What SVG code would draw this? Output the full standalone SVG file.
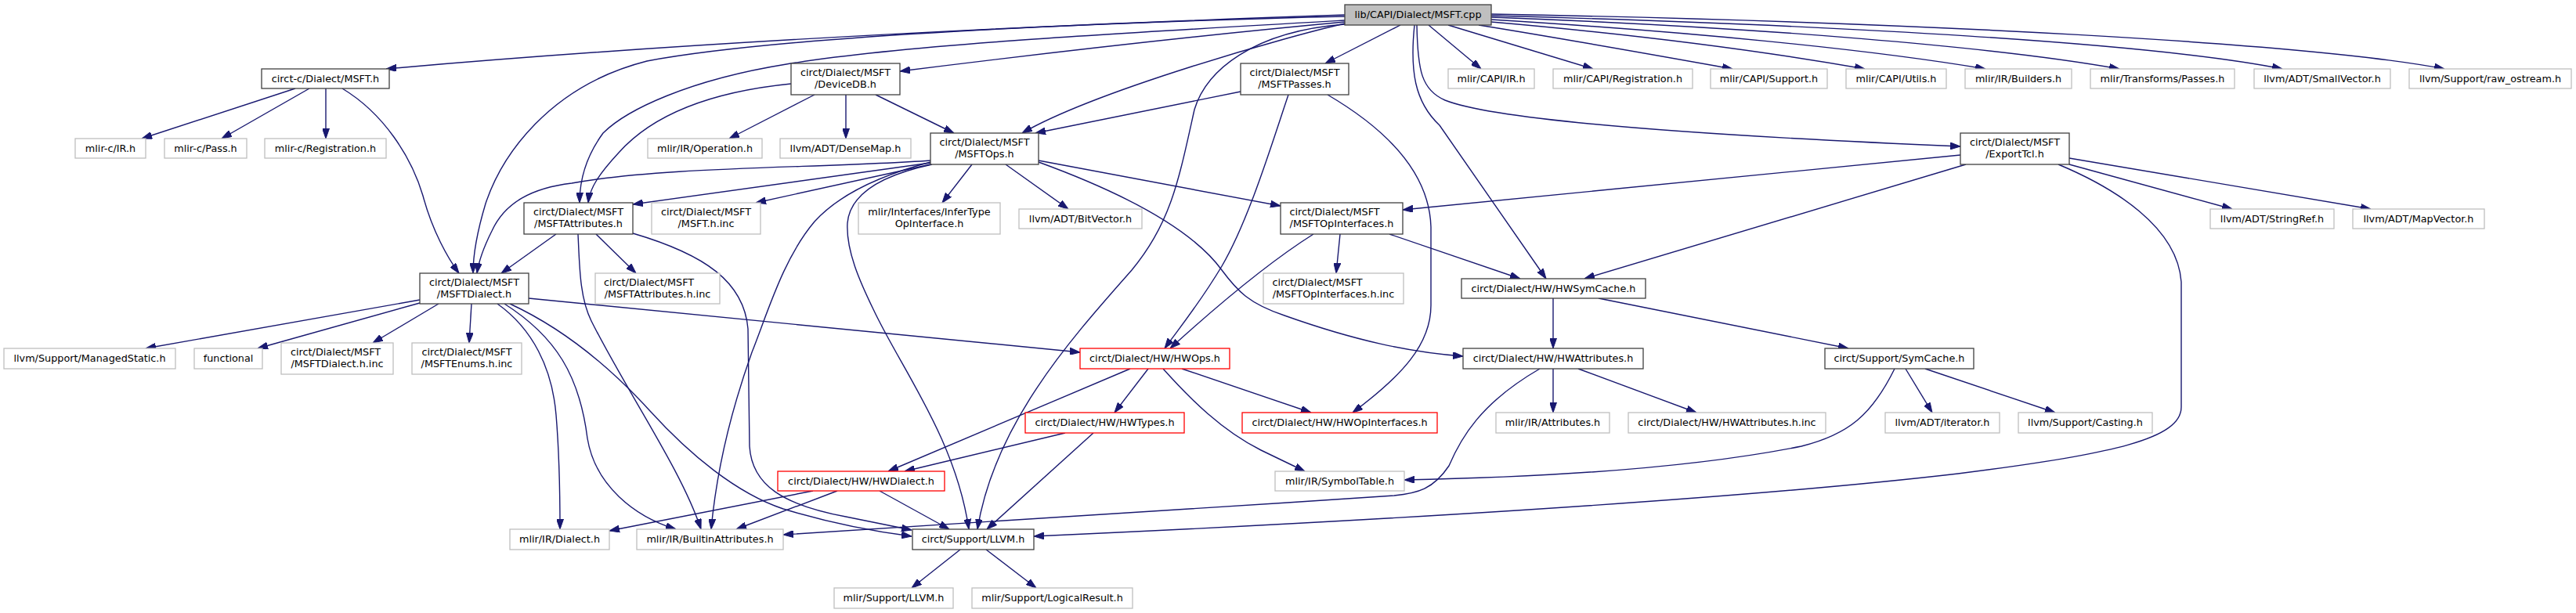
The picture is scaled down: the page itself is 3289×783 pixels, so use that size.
<svg xmlns="http://www.w3.org/2000/svg" width="3289" height="783" viewBox="0 0 3289 783">
<defs>
<marker id="ah" viewBox="0 0 13 9" refX="13" refY="4.5" markerWidth="13" markerHeight="9" markerUnits="userSpaceOnUse" orient="auto">
<path d="M0,0 L13,4.5 L0,9 z" fill="#191970" stroke="#191970" stroke-width="1"/>
</marker>
<style>
.node rect{stroke-width:1.3;fill:#ffffff}
.doc rect{stroke:#404040}
.ext rect{stroke:#bfbfbf}
.trunc rect{stroke:#ff0000}
.root rect{fill:#bfbfbf;stroke:#404040}
text{font-family:"DejaVu Sans","Liberation Sans",sans-serif;font-size:12.8px;fill:#000000}
.c{text-anchor:middle}
.s{text-anchor:start}
#edges path{fill:none;stroke:#191970;stroke-width:1.4;marker-end:url(#ah)}
</style>
</defs>
<rect x="0" y="0" width="3289" height="783" fill="#ffffff"/>
<g id="edges">
<path d="M1717,21 C1400,28 900,52 493,88"/>
<path d="M1717,28 C1500,48 1300,72 1149,91"/>
<path d="M1788,32 L1692,81"/>
<path d="M1717,30 C1650,45 1400,115 1305,170"/>
<path d="M1717,26 C1400,44 1150,58 1004,82 C880,102 800,140 770,170 C748,200 740,230 740,259"/>
<path d="M1717,19 C1400,30 1000,45 826,78 C700,110 640,200 620,260 C608,300 604,330 604,349"/>
<path d="M1717,31 C1600,40 1540,90 1525,140 C1505,230 1495,285 1445,345 C1370,430 1270,540 1248,676"/>
<path d="M1806,32 C1800,90 1806,130 1838,160 L1974,356"/>
<path d="M1809,32 C1810,90 1815,115 1845,128 C1900,150 2100,170 2503,187"/>
<path d="M1824,32 L1891,88"/>
<path d="M1849,32 L2034,88"/>
<path d="M1888,32 C2000,50 2100,68 2212,88"/>
<path d="M1904,28 C2100,45 2250,65 2381,88"/>
<path d="M1904,25 C2150,40 2380,62 2535,88"/>
<path d="M1904,22 C2250,35 2550,60 2706,88"/>
<path d="M1904,20 C2350,32 2750,55 2914,88"/>
<path d="M1904,18 C2450,28 2950,55 3121,88"/>
<path d="M377,113 L181,177"/>
<path d="M395,113 L283,177"/>
<path d="M416,113 L416,177"/>
<path d="M437,113 C490,145 525,200 540,250 C552,295 572,330 586,349"/>
<path d="M1040,121 L931,177"/>
<path d="M1080,121 L1080,177"/>
<path d="M1118,121 L1218,170"/>
<path d="M1010,107 C900,118 830,150 790,195 C765,222 753,240 751,259"/>
<path d="M1584,117 L1322,170"/>
<path d="M1645,121 C1625,180 1595,280 1560,340 C1530,390 1505,420 1487,445"/>
<path d="M1695,121 C1770,165 1825,220 1827,290 L1827,390 C1827,440 1790,480 1727,527"/>
<path d="M1188,208 L808,261"/>
<path d="M1188,210 L965,259"/>
<path d="M1188,205 C1050,215 850,212 730,234 C680,240 645,258 628,295 C618,315 611,335 609,349"/>
<path d="M1241,210 L1203,259"/>
<path d="M1284,210 L1364,267"/>
<path d="M1326,205 L1635,263"/>
<path d="M1326,207 C1430,245 1520,290 1560,345 C1580,372 1595,388 1640,403 C1730,435 1800,450 1868,455"/>
<path d="M1190,210 C1120,225 1085,250 1082,285 C1080,320 1098,360 1115,395 C1150,470 1220,560 1237,676"/>
<path d="M1188,207 C1120,225 1070,250 1040,283 C1000,330 980,400 960,450 C935,520 915,600 908,676"/>
<path d="M710,299 L640,349"/>
<path d="M761,299 L812,349"/>
<path d="M738,299 C740,340 740,380 755,410 C800,500 870,600 895,676"/>
<path d="M808,298 C900,325 950,360 955,420 L957,570 C960,620 1000,645 1080,660 L1164,677"/>
<path d="M536,383 L186,445"/>
<path d="M536,387 L329,445"/>
<path d="M560,388 L476,438"/>
<path d="M602,388 L599,438"/>
<path d="M635,388 C680,420 705,470 710,530 C715,590 715,640 715,676"/>
<path d="M644,388 C710,430 740,480 750,560 C760,620 810,660 863,676"/>
<path d="M651,388 C720,420 780,470 830,525 C880,580 940,630 1000,650 C1060,668 1110,678 1164,685"/>
<path d="M675,381 L1379,450"/>
<path d="M1443,471 L1134,602"/>
<path d="M1466,471 L1423,527"/>
<path d="M1485,471 C1520,510 1560,550 1610,575 L1666,602"/>
<path d="M1509,471 L1674,527"/>
<path d="M1360,553 L1155,602"/>
<path d="M1396,553 L1260,676"/>
<path d="M1038,627 L778,678"/>
<path d="M1069,627 L940,676"/>
<path d="M1123,627 L1212,676"/>
<path d="M1226,702 L1164,751"/>
<path d="M1259,702 L1323,751"/>
<path d="M1711,299 L1706,349"/>
<path d="M1774,299 L1941,356"/>
<path d="M1677,299 C1620,335 1560,385 1494,445"/>
<path d="M1983,381 L1983,445"/>
<path d="M2041,381 L2360,445"/>
<path d="M2503,198 L1791,268"/>
<path d="M2510,210 L2023,356"/>
<path d="M2642,210 L2850,267"/>
<path d="M2642,202 L3027,267"/>
<path d="M2628,210 C2700,240 2780,290 2785,360 L2785,520 C2785,560 2700,580 2500,605 C2200,640 1700,668 1320,685"/>
<path d="M1966,471 C1890,515 1865,560 1850,595 C1830,625 1810,630 1780,633 C1500,652 1200,668 1000,683"/>
<path d="M1983,471 L1983,527"/>
<path d="M2015,471 L2166,527"/>
<path d="M2419,471 C2390,530 2360,555 2300,570 C2150,600 1950,610 1793,613"/>
<path d="M2433,471 L2467,527"/>
<path d="M2458,471 L2624,527"/>
</g>
<g id="n0" class="node root"><rect x="1717" y="6" width="187" height="26"/><text class="c" x="1810.5" y="23">lib/CAPI/Dialect/MSFT.cpp</text></g>
<g id="n1" class="node doc"><rect x="334" y="88" width="163" height="25"/><text class="c" x="415.5" y="104.5">circt-c/Dialect/MSFT.h</text></g>
<g id="n2" class="node doc"><rect x="1010" y="81" width="139" height="40"/><text class="c" x="1079.5" y="97">circt/Dialect/MSFT</text><text class="c" x="1079.5" y="111.8">/DeviceDB.h</text></g>
<g id="n3" class="node doc"><rect x="1584" y="81" width="138" height="40"/><text class="c" x="1653" y="97">circt/Dialect/MSFT</text><text class="c" x="1653" y="111.8">/MSFTPasses.h</text></g>
<g id="n4" class="node ext"><rect x="1849" y="88" width="110" height="25"/><text class="c" x="1904" y="104.5">mlir/CAPI/IR.h</text></g>
<g id="n5" class="node ext"><rect x="1983" y="88" width="178" height="25"/><text class="c" x="2072" y="104.5">mlir/CAPI/Registration.h</text></g>
<g id="n6" class="node ext"><rect x="2184" y="88" width="149" height="25"/><text class="c" x="2258.5" y="104.5">mlir/CAPI/Support.h</text></g>
<g id="n7" class="node ext"><rect x="2357" y="88" width="128" height="25"/><text class="c" x="2421" y="104.5">mlir/CAPI/Utils.h</text></g>
<g id="n8" class="node ext"><rect x="2509" y="88" width="136" height="25"/><text class="c" x="2577" y="104.5">mlir/IR/Builders.h</text></g>
<g id="n9" class="node ext"><rect x="2669" y="88" width="184" height="25"/><text class="c" x="2761" y="104.5">mlir/Transforms/Passes.h</text></g>
<g id="n10" class="node ext"><rect x="2878" y="88" width="174" height="25"/><text class="c" x="2965" y="104.5">llvm/ADT/SmallVector.h</text></g>
<g id="n11" class="node ext"><rect x="3076" y="88" width="207" height="25"/><text class="c" x="3179.5" y="104.5">llvm/Support/raw_ostream.h</text></g>
<g id="n12" class="node ext"><rect x="96" y="177" width="90" height="25"/><text class="c" x="141" y="193.5">mlir-c/IR.h</text></g>
<g id="n13" class="node ext"><rect x="210" y="177" width="105" height="25"/><text class="c" x="262.5" y="193.5">mlir-c/Pass.h</text></g>
<g id="n14" class="node ext"><rect x="338" y="177" width="155" height="25"/><text class="c" x="415.5" y="193.5">mlir-c/Registration.h</text></g>
<g id="n15" class="node ext"><rect x="827" y="177" width="146" height="25"/><text class="c" x="900" y="193.5">mlir/IR/Operation.h</text></g>
<g id="n16" class="node ext"><rect x="996" y="177" width="167" height="25"/><text class="c" x="1079.5" y="193.5">llvm/ADT/DenseMap.h</text></g>
<g id="n17" class="node doc"><rect x="1188" y="170" width="138" height="40"/><text class="c" x="1257" y="186">circt/Dialect/MSFT</text><text class="c" x="1257" y="200.8">/MSFTOps.h</text></g>
<g id="n18" class="node doc"><rect x="2503" y="170" width="139" height="40"/><text class="c" x="2572.5" y="186">circt/Dialect/MSFT</text><text class="c" x="2572.5" y="200.8">/ExportTcl.h</text></g>
<g id="n19" class="node doc"><rect x="669" y="259" width="139" height="40"/><text class="c" x="738.5" y="275">circt/Dialect/MSFT</text><text class="c" x="738.5" y="289.8">/MSFTAttributes.h</text></g>
<g id="n20" class="node ext"><rect x="832" y="259" width="139" height="40"/><text class="c" x="901.5" y="275">circt/Dialect/MSFT</text><text class="c" x="901.5" y="289.8">/MSFT.h.inc</text></g>
<g id="n21" class="node ext"><rect x="1096" y="259" width="181" height="40"/><text class="c" x="1186.5" y="275">mlir/Interfaces/InferType</text><text class="c" x="1186.5" y="289.8">OpInterface.h</text></g>
<g id="n22" class="node ext"><rect x="1301" y="267" width="157" height="25"/><text class="c" x="1379.5" y="283.5">llvm/ADT/BitVector.h</text></g>
<g id="n23" class="node doc"><rect x="1635" y="259" width="156" height="40"/><text class="s" x="1646.5" y="275">circt/Dialect/MSFT</text><text class="c" x="1713" y="289.8">/MSFTOpInterfaces.h</text></g>
<g id="n24" class="node ext"><rect x="2822" y="267" width="158" height="25"/><text class="c" x="2901" y="283.5">llvm/ADT/StringRef.h</text></g>
<g id="n25" class="node ext"><rect x="3004" y="267" width="168" height="25"/><text class="c" x="3088" y="283.5">llvm/ADT/MapVector.h</text></g>
<g id="n26" class="node doc"><rect x="536" y="349" width="139" height="39"/><text class="c" x="605.5" y="365">circt/Dialect/MSFT</text><text class="c" x="605.5" y="379.8">/MSFTDialect.h</text></g>
<g id="n27" class="node ext"><rect x="760" y="349" width="159" height="39"/><text class="s" x="771" y="365">circt/Dialect/MSFT</text><text class="c" x="839.5" y="379.8">/MSFTAttributes.h.inc</text></g>
<g id="n28" class="node ext"><rect x="1613" y="349" width="179" height="39"/><text class="s" x="1624.5" y="365">circt/Dialect/MSFT</text><text class="c" x="1702.5" y="379.8">/MSFTOpInterfaces.h.inc</text></g>
<g id="n29" class="node doc"><rect x="1866" y="356" width="235" height="25"/><text class="c" x="1983.5" y="372.5">circt/Dialect/HW/HWSymCache.h</text></g>
<g id="n30" class="node ext"><rect x="5" y="445" width="219" height="26"/><text class="c" x="114.5" y="461.5">llvm/Support/ManagedStatic.h</text></g>
<g id="n31" class="node ext"><rect x="248" y="445" width="87" height="26"/><text class="c" x="291.5" y="461.5">functional</text></g>
<g id="n32" class="node ext"><rect x="359" y="438" width="143" height="40"/><text class="s" x="371" y="454">circt/Dialect/MSFT</text><text class="c" x="430.5" y="468.8">/MSFTDialect.h.inc</text></g>
<g id="n33" class="node ext"><rect x="526" y="438" width="140" height="40"/><text class="c" x="596" y="454">circt/Dialect/MSFT</text><text class="c" x="596" y="468.8">/MSFTEnums.h.inc</text></g>
<g id="n34" class="node trunc"><rect x="1379" y="445" width="191" height="26"/><text class="c" x="1474.5" y="461.5">circt/Dialect/HW/HWOps.h</text></g>
<g id="n35" class="node doc"><rect x="1868" y="445" width="230" height="26"/><text class="c" x="1983" y="461.5">circt/Dialect/HW/HWAttributes.h</text></g>
<g id="n36" class="node doc"><rect x="2330" y="445" width="190" height="26"/><text class="c" x="2425" y="461.5">circt/Support/SymCache.h</text></g>
<g id="n37" class="node trunc"><rect x="1309" y="527" width="203" height="26"/><text class="c" x="1410.5" y="543.5">circt/Dialect/HW/HWTypes.h</text></g>
<g id="n38" class="node trunc"><rect x="1586" y="527" width="249" height="26"/><text class="c" x="1710.5" y="543.5">circt/Dialect/HW/HWOpInterfaces.h</text></g>
<g id="n39" class="node ext"><rect x="1910" y="527" width="145" height="26"/><text class="c" x="1982.5" y="543.5">mlir/IR/Attributes.h</text></g>
<g id="n40" class="node ext"><rect x="2079" y="527" width="252" height="26"/><text class="c" x="2205" y="543.5">circt/Dialect/HW/HWAttributes.h.inc</text></g>
<g id="n41" class="node ext"><rect x="2407" y="527" width="146" height="26"/><text class="c" x="2480" y="543.5">llvm/ADT/iterator.h</text></g>
<g id="n42" class="node ext"><rect x="2577" y="527" width="171" height="26"/><text class="c" x="2662.5" y="543.5">llvm/Support/Casting.h</text></g>
<g id="n43" class="node trunc"><rect x="993" y="602" width="213" height="25"/><text class="c" x="1099.5" y="618.5">circt/Dialect/HW/HWDialect.h</text></g>
<g id="n44" class="node ext"><rect x="1628" y="602" width="165" height="25"/><text class="c" x="1710.5" y="618.5">mlir/IR/SymbolTable.h</text></g>
<g id="n45" class="node ext"><rect x="651" y="676" width="127" height="26"/><text class="c" x="714.5" y="692.5">mlir/IR/Dialect.h</text></g>
<g id="n46" class="node ext"><rect x="813" y="676" width="187" height="26"/><text class="c" x="906.5" y="692.5">mlir/IR/BuiltinAttributes.h</text></g>
<g id="n47" class="node doc"><rect x="1165" y="676" width="155" height="26"/><text class="c" x="1242.5" y="692.5">circt/Support/LLVM.h</text></g>
<g id="n48" class="node ext"><rect x="1065" y="751" width="152" height="26"/><text class="c" x="1141" y="767.5">mlir/Support/LLVM.h</text></g>
<g id="n49" class="node ext"><rect x="1241" y="751" width="205" height="26"/><text class="c" x="1343.5" y="767.5">mlir/Support/LogicalResult.h</text></g>
</svg>
